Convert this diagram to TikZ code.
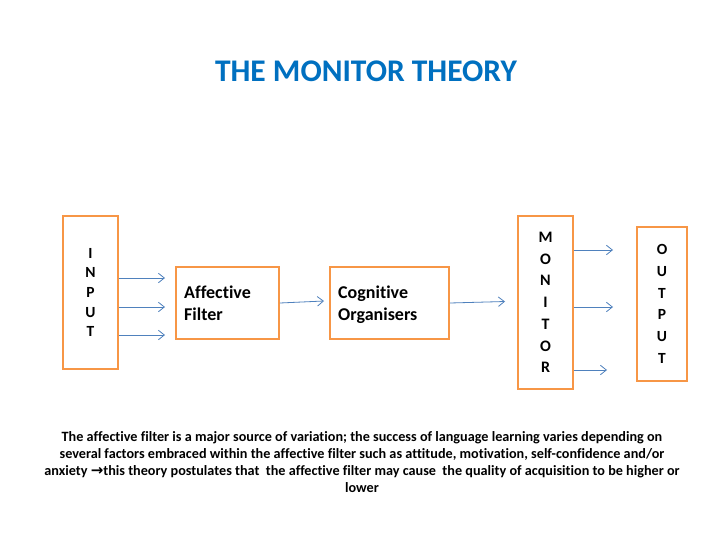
\documentclass[tikz,border=0pt]{standalone}
\usepackage{fontspec}
\setmainfont{Carlito}[Ligatures=NoCommon]
\newfontfamily\symfont{DejaVu Sans}
\usetikzlibrary{arrows.meta}
\definecolor{boxorange}{HTML}{F79646}
\definecolor{arrowblue}{HTML}{4F81BD}
\definecolor{titleblue}{HTML}{0070C0}
\tikzset{
  stagebox/.style={draw=boxorange, line width=1.8pt, fill=white, inner sep=0pt},
  stagetext/.style={anchor=base west, inner sep=0pt, align=left, font=\bfseries\fontsize{18}{22}\selectfont},
  letterbox/.style={stagebox, align=center},
  arr/.style={draw=arrowblue, line width=0.8pt, -{Straight Barb[length=6pt,width=9.5pt,line width=0.8pt]}},
}
\begin{document}
\begin{tikzpicture}[x=1pt,y=-1pt]
\useasboundingbox[fill=white] (0,0) rectangle (728,546);
\node[font=\bfseries\fontsize{31.5}{36}\selectfont, text=titleblue] (title) at (366,71) {THE MONITOR THEORY};

\node[letterbox, minimum width=55pt, minimum height=153pt, font=\bfseries\fontsize{15.5}{19.6}\selectfont] (input) at (90.5,292.5) {I\\N\\P\\U\\T};
\node[stagebox, minimum width=103pt, minimum height=72pt] (aff) at (227.5,303) {};
\node[stagebox, minimum width=119pt, minimum height=72pt] (cog) at (389.5,303) {};
\node[stagetext] (afftext) at (184,320.5) {Affective\\Filter};
\node[stagetext] (cogtext) at (338,320.5) {Cognitive\\Organisers};
\node[letterbox, minimum width=55pt, minimum height=173pt, font=\bfseries\fontsize{16}{21.7}\selectfont] (mon) at (545.5,302.5) {M\\O\\N\\I\\T\\O\\R};
\node[letterbox, minimum width=50pt, minimum height=154pt, font=\bfseries\fontsize{15.5}{21.8}\selectfont] (out) at (662,304) {O\\U\\T\\P\\U\\T};

\coordinate (i1) at (165,278);
\coordinate (i2) at (165,307);
\coordinate (i3) at (165,335);
\draw[arr] (input.east |- i1) -- (i1);
\draw[arr] (input.east |- i2) -- (i2);
\draw[arr] (input.east |- i3) -- (i3);

\coordinate (c1) at (324,301);
\draw[arr] (aff.east) -- (c1);
\coordinate (m1) at (505,301.5);
\draw[arr] (cog.east) -- (m1);

\coordinate (o1) at (613,250);
\coordinate (o2) at (613,307);
\coordinate (o3) at (607,370);
\draw[arr] (mon.east |- o1) -- (o1);
\draw[arr] (mon.east |- o2) -- (o2);
\draw[arr] (mon.east |- o3) -- (o3);

\node[align=center, font=\bfseries\fontsize{14.2}{17}\selectfont] (note) at (362,462) {The affective filter is a major source of variation; the success of language learning varies depending on\\
several factors embraced within the affective filter such as attitude, motivation, self-confidence and/or\\
anxiety {\symfont\bfseries\fontsize{15}{17}\selectfont →}this theory postulates that~ the affective filter may cause~ the quality of acquisition to be higher or\\
lower};
\end{tikzpicture}
\end{document}
